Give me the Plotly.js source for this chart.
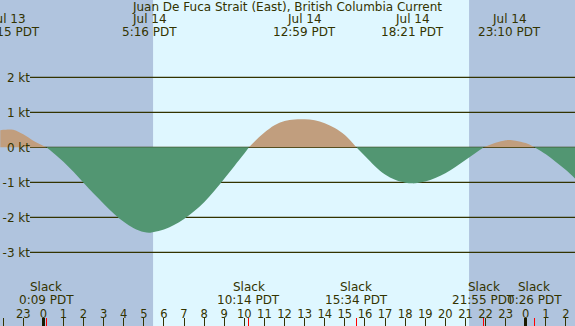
<!DOCTYPE html>
<html>
<head>
<meta charset="utf-8">
<script src="https://cdn.plot.ly/plotly-3.0.1.min.js"></script>
<style>html,body{margin:0;padding:0;background:#b0c4de;}#chart{width:575px;height:326px;}</style>
</head>
<body>
<div id="chart"></div>
<script>
// Hours relative to Jul 14 00:00 PDT, current speed in knots (+ flood, - ebb)
const hours = [-2.14, -2.0, -1.5, -1.0, -0.5, 0.15,
  0.5, 1.0, 1.5, 2.0, 2.5, 3.0, 3.5, 4.0, 4.5, 5.0, 5.27, 5.5, 6.0, 6.5, 7.0, 7.5, 8.0, 8.5, 9.0, 9.5, 10.0, 10.23,
  10.5, 11.0, 11.5, 12.0, 12.5, 13.0, 13.5, 14.0, 14.5, 15.0, 15.57,
  16.0, 16.5, 17.0, 17.5, 18.0, 18.35, 18.5, 19.0, 19.5, 20.0, 20.5, 21.0, 21.5, 21.92,
  22.5, 23.0, 23.17, 23.5, 24.0, 24.43,
  25.0, 25.5, 26.0, 26.45];
const speed = [0.49, 0.50, 0.50, 0.37, 0.19, 0,
  -0.16, -0.41, -0.70, -1.01, -1.32, -1.61, -1.89, -2.13, -2.31, -2.42, -2.44, -2.42, -2.35, -2.22, -2.05, -1.83, -1.57, -1.25, -0.90, -0.54, -0.18, 0,
  0.16, 0.42, 0.63, 0.75, 0.795, 0.80, 0.77, 0.69, 0.55, 0.35, 0,
  -0.25, -0.54, -0.78, -0.93, -1.01, -1.03, -1.03, -0.98, -0.88, -0.74, -0.56, -0.36, -0.16, 0,
  0.13, 0.20, 0.21, 0.19, 0.12, 0,
  -0.20, -0.42, -0.65, -0.89];

// Max current events (top labels)
const maxHours = [-1.75, 5.27, 12.98, 18.35, 23.17];
const maxDates = ["Jul 13", "Jul 14", "Jul 14", "Jul 14", "Jul 14"];
const maxTimes = ["22:15 PDT", "5:16 PDT", "12:59 PDT", "18:21 PDT", "23:10 PDT"];

// Slack events (bottom labels)
const slackHours = [0.15, 10.23, 15.57, 21.92, 24.43];
const slackTimes = ["0:09 PDT", "10:14 PDT", "15:34 PDT", "21:55 PDT", "0:26 PDT"];

// Daylight (sunrise, sunset)
const daylight = [5.46, 21.18];
const midnights = [0, 24];

// Axis ticks
const hourTicks = [-2,-1,0,1,2,3,4,5,6,7,8,9,10,11,12,13,14,15,16,17,18,19,20,21,22,23,24,25,26];
const hourLabels = ["22","23","0","1","2","3","4","5","6","7","8","9","10","11","12","13","14","15","16","17","18","19","20","21","22","23","0","1","2"];
const ktTicks = [-3, -2, -1, 0, 1, 2];
const ktLabels = ["-3 kt", "-2 kt", "-1 kt", "0 kt", "1 kt", "2 kt"];

const title = "Juan De Fuca Strait (East), British Columbia Current";

const txt = '#333300';
const font = {family: 'DejaVu Sans', size: 12, color: txt};
const xr = [-2.155, 26.45];
const gridX0 = 30 / 575;

const pos = speed.map(v => v >= 0 ? v : null);
const neg = speed.map(v => v <= 0 ? v : null);

const dummy = ax => ({x: [null], y: [null], xaxis: ax, yaxis: 'y', type: 'scatter', mode: 'lines', hoverinfo: 'skip'});

const traces = [
  {x: hours, y: pos, type: 'scatter', mode: 'lines', fill: 'tozeroy', fillcolor: '#c19e7e',
   line: {width: 0, shape: 'spline', smoothing: 1, color: '#c19e7e'}, connectgaps: false, hoverinfo: 'skip'},
  {x: hours, y: neg, type: 'scatter', mode: 'lines', fill: 'tozeroy', fillcolor: '#529672',
   line: {width: 0, shape: 'spline', smoothing: 1, color: '#529672'}, connectgaps: false, hoverinfo: 'skip'},
  dummy('x2'), dummy('x3'), dummy('x4')
];

const shapes = [
  {type: 'rect', xref: 'x', yref: 'paper', x0: daylight[0], x1: daylight[1], y0: 0, y1: 1,
   fillcolor: '#dff7ff', line: {width: 0}, layer: 'below'}
].concat(ktTicks.map(v => ({type: 'line', xref: 'paper', yref: 'y', x0: gridX0, x1: 1, y0: v, y1: v,
   line: {color: txt, width: 1.3}, layer: 'below'})));

const annotations = [];
maxHours.forEach((h, i) => {
  annotations.push({x: h, xref: 'x', y: 1 - 19.5 / 326, yref: 'paper', text: maxDates[i], showarrow: false,
    xanchor: 'center', yanchor: 'middle', font: font});
  annotations.push({x: h, xref: 'x', y: 1 - 31.7 / 326, yref: 'paper', text: maxTimes[i], showarrow: false,
    xanchor: 'center', yanchor: 'middle', font: font});
});
slackHours.forEach((h, i) => {
  annotations.push({x: h, xref: 'x', y: 1 - 287.3 / 326, yref: 'paper', text: 'Slack', showarrow: false,
    xanchor: 'center', yanchor: 'middle', font: font});
  annotations.push({x: h, xref: 'x', y: 1 - 300 / 326, yref: 'paper', text: slackTimes[i], showarrow: false,
    xanchor: 'center', yanchor: 'middle', font: font});
});

const baseX = {range: xr, showgrid: false, zeroline: false, showline: false, side: 'top', anchor: 'free', position: 0,
  ticks: 'outside', ticklen: 8, fixedrange: true};

const layout = {
  width: 575, height: 326,
  margin: {l: 0, r: 0, t: 0, b: 0, pad: 0},
  paper_bgcolor: '#b0c4de', plot_bgcolor: 'rgba(0,0,0,0)',
  showlegend: false,
  title: {text: title, font: font, x: 0.5, xanchor: 'center', xref: 'paper', y: 1, yref: 'container', yanchor: 'top', pad: {t: 3, b: 0}},
  // hour labels
  xaxis: Object.assign({}, baseX, {tickvals: hourTicks, ticktext: hourLabels, ticklen: 3, tickwidth: 1, tickcolor: 'rgba(0,0,0,0)',
    tickfont: {family: 'DejaVu Sans', size: 11.5, color: txt}}),
  // hour tick marks
  xaxis2: Object.assign({}, baseX, {overlaying: 'x', tickvals: hourTicks, tickwidth: 1, tickcolor: txt, showticklabels: false}),
  // midnight tick marks
  xaxis3: Object.assign({}, baseX, {overlaying: 'x', tickvals: midnights, tickwidth: 3, tickcolor: '#1a1a00', showticklabels: false}),
  // slack tick marks
  xaxis4: Object.assign({}, baseX, {overlaying: 'x', tickvals: slackHours, tickwidth: 1, tickcolor: '#ff0000', showticklabels: false}),
  yaxis: {range: [-5.106, 4.209], tickvals: ktTicks, ticktext: ktLabels, showgrid: false, zeroline: false, showline: false,
    anchor: 'free', position: gridX0, side: 'left', ticks: '', tickfont: font, fixedrange: true},
  shapes: shapes,
  annotations: annotations
};

Plotly.newPlot('chart', traces, layout, {staticPlot: true, displayModeBar: false});
</script>
</body>
</html>
